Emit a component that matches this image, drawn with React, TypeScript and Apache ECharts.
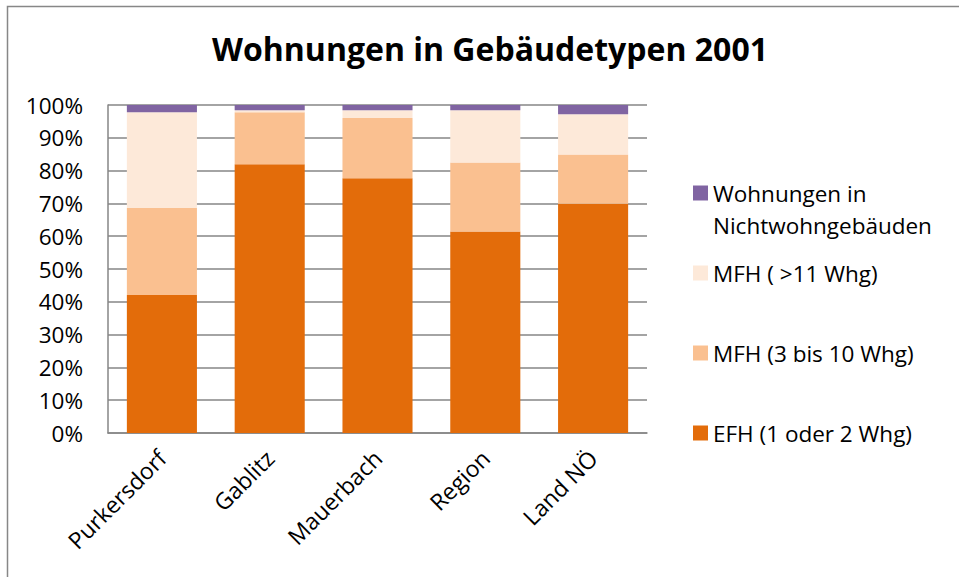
import React, { useEffect, useRef } from "react";
import * as echarts from "echarts";

const categories = ["Purkersdorf", "Gablitz", "Mauerbach", "Region", "Land NÖ"];
const efh = [42.1, 81.9, 77.7, 61.4, 69.9];
const mfhSmall = [26.5, 15.9, 18.3, 21.1, 15.0];
const mfhLarge = [29.2, 0.6, 2.4, 15.9, 12.3];
const nonResidential = [2.2, 1.6, 1.6, 1.6, 2.8];
const yTicks = [0, 10, 20, 30, 40, 50, 60, 70, 80, 90, 100];

const seriesNames = [
  "EFH (1 oder 2 Whg)",
  "MFH (3 bis 10 Whg)",
  "MFH ( >11 Whg)",
  "Wohnungen in Nichtwohngebäuden",
];
const colors = ["#E36C0A", "#FAC090", "#FDE9D9", "#8064A2"];

const FONT = "'Open Sans', 'Noto Sans', sans-serif";

export default function App() {
  const ref = useRef<HTMLDivElement>(null);
  useEffect(() => {
    if (!ref.current) return;
    const chart = echarts.init(ref.current, undefined, { renderer: "svg" });
    const data = [efh, mfhSmall, mfhLarge, nonResidential];
    const legendBase = {
      left: 693,
      orient: "vertical" as const,
      itemWidth: 15,
      itemHeight: 15,
      icon: "rect",
      selectedMode: false,
      padding: 0,
      textStyle: { fontFamily: FONT, fontSize: 22.5, color: "#000", lineHeight: 32 },
    };
    chart.setOption({
      animation: false,
      backgroundColor: "#fff",
      title: {
        text: "Wohnungen in Gebäudetypen 2001",
        left: 485,
        top: 43,
        textAlign: "center",
        textVerticalAlign: "middle",
        textStyle: { fontFamily: FONT, fontSize: 32, fontWeight: "bold", color: "#000" },
      } as any,
      graphic: [
        {
          type: "rect",
          shape: { x: 7.5, y: 6.5, width: 1200, height: 1200 },
          style: { fill: "none", stroke: "#878787", lineWidth: 1.5 },
          silent: true,
        },
      ],
      legend: [
        {
          ...legendBase,
          top: 193 - 48,
          data: [seriesNames[3]],
          formatter: () => " \nWohnungen in\nNichtwohngebäuden",
        },
        { ...legendBase, top: 273 - 16, data: [seriesNames[2]] },
        { ...legendBase, top: 353 - 16, data: [seriesNames[1]] },
        { ...legendBase, top: 433 - 16, data: [seriesNames[0]] },
      ],
      grid: { left: 108, right: 312, top: 105, bottom: 144, containLabel: false },
      xAxis: {
        type: "category",
        data: categories,
        axisLine: { show: true, lineStyle: { color: "#868686", width: 1.5 } },
        axisTick: { show: false },
        axisLabel: {
          rotate: 45,
          margin: 21,
          fontFamily: FONT,
          fontSize: 23,
          color: "#000",
        },
      },
      yAxis: {
        type: "value",
        min: 0,
        max: 100,
        interval: 10,
        axisLine: { show: true, lineStyle: { color: "#868686", width: 1.5 } },
        axisTick: { show: false },
        splitLine: { show: true, lineStyle: { color: "#868686", width: 1.5 } },
        axisLabel: {
          margin: 25,
          fontFamily: FONT,
          fontSize: 22.5,
          color: "#000",
          formatter: (v: number) => (yTicks.includes(v) ? `${v}%` : ""),
        },
      },
      series: seriesNames.map((name, i) => ({
        name,
        type: "bar",
        stack: "total",
        barWidth: "65%",
        data: data[i],
        itemStyle: { color: colors[i] },
      })),
    });
    return () => chart.dispose();
  }, []);
  return <div ref={ref} style={{ width: 959, height: 577, position: "absolute", left: 0, top: 0 }} />;
}
